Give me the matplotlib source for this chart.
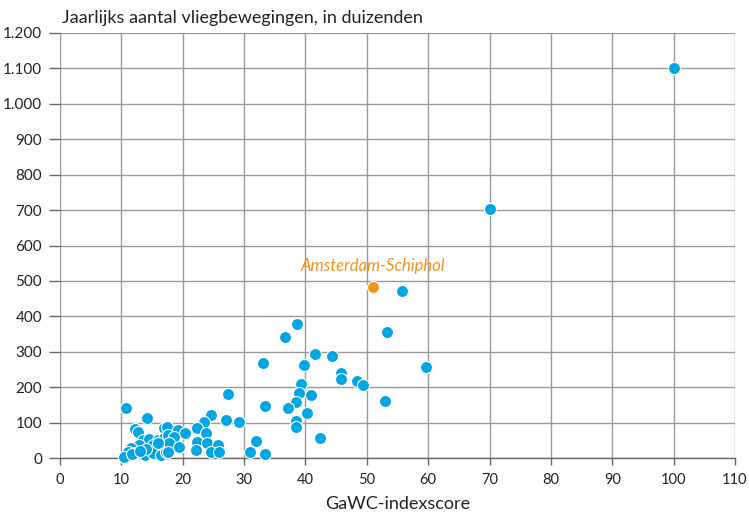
import matplotlib
matplotlib.use("Agg")
import matplotlib.pyplot as plt
from matplotlib.ticker import FuncFormatter

plt.rcParams['font.family'] = ['Lato', 'DejaVu Sans']

# GaWC index score and yearly aircraft movements (thousands)
gawc = [100, 70.0, 55.8, 53.3, 38.6, 36.6, 41.5, 44.4, 33.1, 39.8, 59.6,
        45.8, 45.8, 48.4, 49.3, 39.2, 38.9, 40.9, 38.4, 37.2, 33.4, 52.9,
        40.3, 38.4, 38.4, 42.4, 32.0, 30.9, 33.4, 29.2, 27.1, 27.4,
        10.7, 14.2, 12.2, 12.7, 17.0, 13.5, 14.5, 15.9, 17.0, 15.1, 16.2,
        12.9, 11.6, 11.1, 10.5, 12.2, 13.8, 15.1, 16.5, 17.3,
        24.6, 23.4, 17.5, 19.2, 20.3, 22.4, 23.8, 17.6, 18.6, 22.4, 24.0,
        25.7, 17.8, 19.4, 17.6, 22.2, 24.6, 25.9, 14.0, 11.8, 13.0, 16.0]
movements = [1100, 703, 472, 357, 378, 343, 293, 287, 267, 263, 257,
             239, 222, 217, 206, 209, 183, 177, 158, 142, 147, 162,
             127, 104, 87, 57, 47, 16, 11, 103, 107, 181,
             140, 112, 82, 73, 86, 51, 53, 51, 56, 37, 32,
             37, 27, 18, 4, 13, 8, 13, 8, 18,
             121, 103, 88, 79, 70, 84, 70, 65, 60, 46, 41,
             37, 41, 32, 18, 23, 18, 18, 25, 10, 20, 42]

schiphol_gawc = [51.0]
schiphol_movements = [483]
schiphol_label = "Amsterdam-Schiphol"

xticks = list(range(0, 111, 10))
yticks = list(range(0, 1201, 100))

blue = "#00a6e4"
orange = "#f39320"
grid = "#999999"

fig = plt.figure(figsize=(7.49, 5.16), dpi=100)
ax = fig.add_axes([60/749, 58/516, (735-60)/749, (458-33)/516])

ax.scatter(gawc, movements, s=75, color=blue, edgecolor="white",
           linewidth=0.8, zorder=3, clip_on=False)
ax.scatter(schiphol_gawc, schiphol_movements, s=75, color=orange,
           edgecolor="white", linewidth=0.8, zorder=4)
ax.annotate(schiphol_label, (schiphol_gawc[0], schiphol_movements[0]),
            xytext=(0, 9), textcoords="offset points", ha="center",
            va="bottom", color=orange, fontsize=12, style="italic")

ax.set_xlim(0, 110)
ax.set_ylim(0, 1200)
ax.set_xticks(xticks)
ax.set_yticks(yticks)
ax.yaxis.set_major_formatter(FuncFormatter(lambda v, p: f"{int(v):,}".replace(",", ".")))
ax.grid(True, color=grid, linewidth=1.0, zorder=0)
ax.set_axisbelow(True)
for s in ["top", "right", "left"]:
    ax.spines[s].set_visible(False)
ax.spines["bottom"].set_color("#666666")
ax.spines["bottom"].set_linewidth(1.0)
ax.tick_params(axis="x", length=5, width=1, color="#666666", labelsize=10.5,
               pad=6, labelcolor="#222222")
ax.tick_params(axis="y", length=8, width=1, color="#666666", labelsize=11,
               pad=5, labelcolor="#222222")

ax.set_xlabel("GaWC-indexscore", fontsize=13, labelpad=6, color="#222222")
fig.text(62/749, 1 - 18/516, "Jaarlijks aantal vliegbewegingen, in duizenden",
         fontsize=13, ha="left", va="center", color="#222222")

fig.savefig("out.png", dpi=100)
